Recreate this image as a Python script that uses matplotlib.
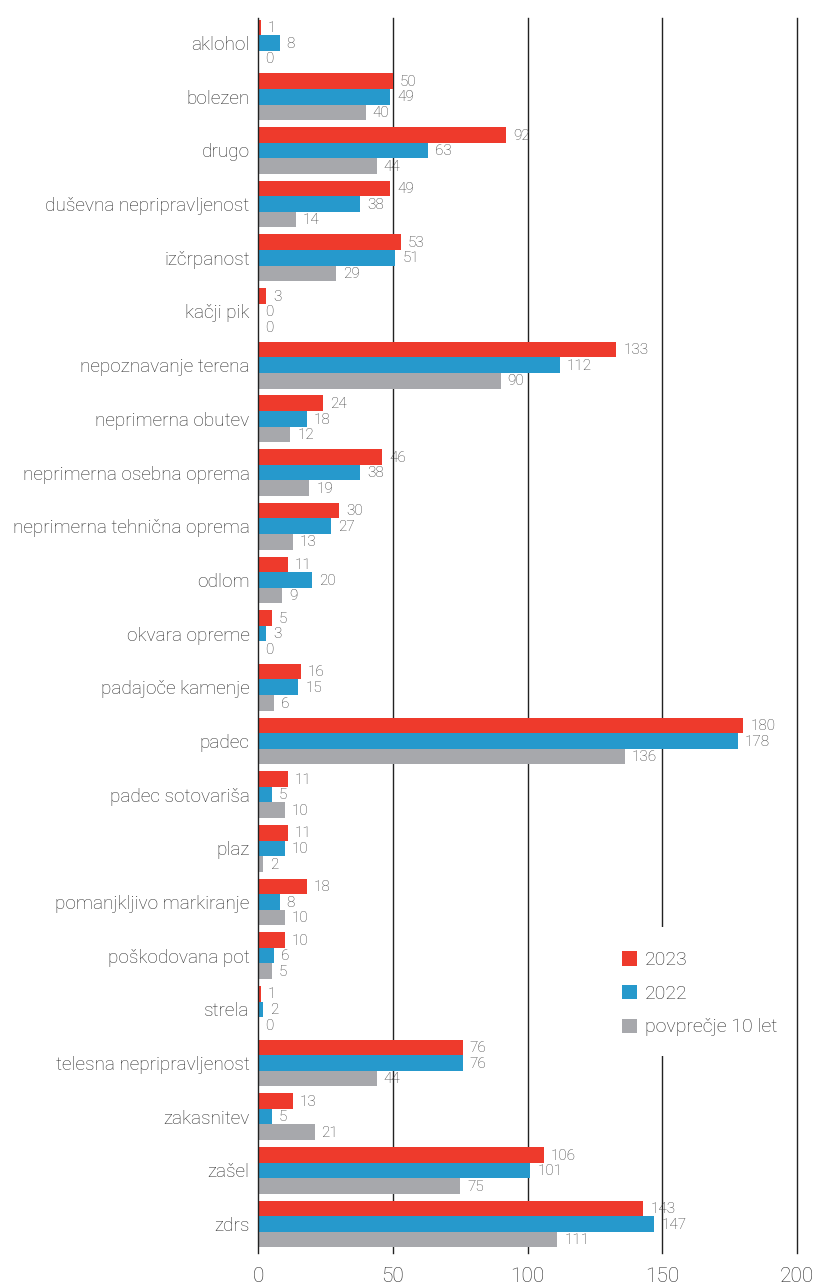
import matplotlib
matplotlib.use("Agg")
import matplotlib.pyplot as plt
from matplotlib.patches import Patch, Rectangle
import numpy as np

categories = [
    "aklohol", "bolezen", "drugo", "duševna nepripravljenost", "izčrpanost",
    "kačji pik", "nepoznavanje terena", "neprimerna obutev",
    "neprimerna osebna oprema", "neprimerna tehnična oprema", "odlom",
    "okvara opreme", "padajoče kamenje", "padec", "padec sotovariša", "plaz",
    "pomanjkljivo markiranje", "poškodovana pot", "strela",
    "telesna nepripravljenost", "zakasnitev", "zašel", "zdrs",
]
y2023 = [1, 50, 92, 49, 53, 3, 133, 24, 46, 30, 11, 5, 16, 180, 11, 11, 18, 10, 1, 76, 13, 106, 143]
y2022 = [8, 49, 63, 38, 51, 0, 112, 18, 38, 27, 20, 3, 15, 178, 5, 10, 8, 6, 2, 76, 5, 101, 147]
avg10 = [0, 40, 44, 14, 29, 0, 90, 12, 19, 13, 9, 0, 6, 136, 10, 2, 10, 5, 0, 44, 21, 75, 111]
series_names = ["2023", "2022", "povprečje 10 let"]
x_ticks = [0, 50, 100, 150, 200]

colors = ["#EE3A2C", "#2699CC", "#A7A8AC"]
font = ["Roboto", "DejaVu Sans"]
plt.rcParams["font.family"] = font
plt.rcParams["font.weight"] = "light"

fig = plt.figure(figsize=(8.15, 12.84), dpi=100)
ax = fig.add_axes([0.3166, 0.0241, 0.978 - 0.3166, 0.9857 - 0.0241])

pos = np.arange(len(categories))
h = 0.29
for k, (vals, col) in enumerate(zip([y2023, y2022, avg10], colors)):
    yy = pos + (k - 1) * h
    ax.barh(yy, vals, height=h, color=col, zorder=2, linewidth=0)
    for yv, v in zip(yy, vals):
        ax.annotate(str(v), xy=(v, yv), xytext=(5, -0.5), textcoords="offset points",
                    va="center", ha="left", fontsize=11, color="#3a3a3a",
                    fontweight="light")

ax.set_xlim(0, 200)
ax.set_ylim(len(categories) - 1 + 0.54, -0.46)
ax.set_yticks(pos)
ax.set_yticklabels(categories, fontsize=13.7, color="#2a2a2a")
ax.set_xticks(x_ticks)
ax.set_xticklabels([str(t) for t in x_ticks], fontsize=15, color="#2a2a2a")
ax.tick_params(axis="both", length=0)
ax.tick_params(axis="x", pad=10)
ax.tick_params(axis="y", pad=6)

for t in x_ticks[1:]:
    ax.axvline(t, color="#222222", linewidth=1.0, zorder=1, clip_on=False)
for s in ["top", "right", "bottom"]:
    ax.spines[s].set_visible(False)
ax.spines["left"].set_color("#222222")
ax.spines["left"].set_linewidth(1.0)
ax.spines["left"].set_zorder(3)

# white backing behind the legend, interrupting the 150 gridline
ax.add_patch(Rectangle((140, 0.160), 45, 0.104, transform=ax.get_xaxis_transform(),
                       facecolor="white", edgecolor="none", zorder=1.5))

handles = [Patch(facecolor=c, edgecolor="none") for c in colors]
leg = ax.legend(handles, series_names, loc="upper left", bbox_to_anchor=(0.621, 0.268),
                frameon=False, fontsize=14, handlelength=0.75, handleheight=0.75,
                handletextpad=0.45, labelspacing=0.8, borderpad=1.0)
leg.set_zorder(5)
for txt in leg.get_texts():
    txt.set_color("#2a2a2a")

fig.savefig("out.png", dpi=100, facecolor="white")
